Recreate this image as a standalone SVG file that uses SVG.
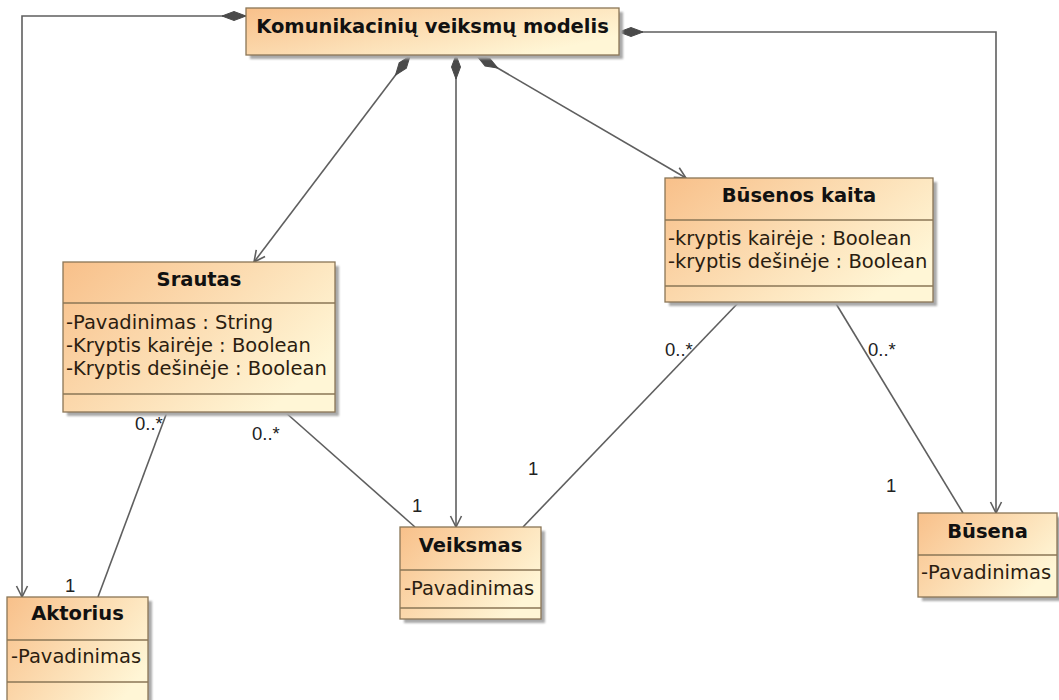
<svg xmlns="http://www.w3.org/2000/svg" width="1059" height="700" viewBox="0 0 1059 700">
  <style>
    .box { fill: url(#classFill); stroke: #8a7656; stroke-width: 1.3; }
    .shadow { fill: #a9a9a9; filter: url(#soft); }
    .div { stroke: #8a7656; stroke-width: 1.3; }
    .title { font-family: "DejaVu Sans", "Liberation Sans", sans-serif; font-weight: bold; font-size: 19.5px; fill: #111; text-anchor: middle; }
    .attr { font-family: "DejaVu Sans", "Liberation Sans", sans-serif; font-size: 19.5px; fill: #2b1d10; }
    .mult { font-family: "Liberation Sans", Arial, sans-serif; font-size: 18.5px; fill: #222; }
    .link { fill: none; stroke: #5f5f5f; stroke-width: 1.6; }
  </style>
  <defs>
    <linearGradient id="classFill" x1="0" y1="0" x2="1" y2="0.6">
      <stop offset="0" stop-color="#f8c08a"/>
      <stop offset="1" stop-color="#fff6d6"/>
    </linearGradient>
    <filter id="soft" x="-10%" y="-10%" width="120%" height="120%">
      <feGaussianBlur stdDeviation="1"/>
    </filter>
    <marker id="diamond" viewBox="-1 -6 27 12" refX="0" refY="0" markerWidth="27" markerHeight="12" markerUnits="userSpaceOnUse" orient="auto">
      <path d="M0,0 L12,-4.5 L24,0 L12,4.5 z" fill="#4a4a4a" stroke="#4a4a4a" stroke-width="1"/>
    </marker>
    <marker id="arrow" viewBox="-13 -7 15 14" refX="0" refY="0" markerWidth="15" markerHeight="14" markerUnits="userSpaceOnUse" orient="auto">
      <path d="M-11,-5.5 L0,0 L-11,5.5" fill="none" stroke="#5f5f5f" stroke-width="1.6"/>
    </marker>
  </defs>

  <rect width="1059" height="700" fill="#ffffff"/>

  <!-- connectors: compositions from the model root, then plain associations -->
  <g id="connectors">
    <path class="link" d="M246,16 H22 V597" marker-start="url(#diamond)" marker-end="url(#arrow)"/>
    <path class="link" d="M619,32 H996 V513" marker-start="url(#diamond)" marker-end="url(#arrow)"/>
    <path class="link" d="M456,55 V527" marker-start="url(#diamond)" marker-end="url(#arrow)"/>
    <path class="link" d="M410,56 L254,262" marker-start="url(#diamond)" marker-end="url(#arrow)"/>
    <path class="link" d="M477,56 L686,178" marker-start="url(#diamond)" marker-end="url(#arrow)"/>
    <path class="link" d="M167,412 L98,597"/>
    <path class="link" d="M285,412 L415,527"/>
    <path class="link" d="M739,302 L523,527"/>
    <path class="link" d="M835,302 L963,513"/>
    <text class="mult" x="135" y="430">0..*</text>
    <text class="mult" x="65" y="592">1</text>
    <text class="mult" x="252" y="440">0..*</text>
    <text class="mult" x="412" y="512">1</text>
    <text class="mult" x="665" y="356">0..*</text>
    <text class="mult" x="528" y="475">1</text>
    <text class="mult" x="868" y="356">0..*</text>
    <text class="mult" x="886" y="492">1</text>
  </g>

  <g id="komunikaciniu-veiksmu-modelis">
    <rect class="shadow" x="250" y="12" width="373" height="47"/>
    <rect class="box" x="246" y="8" width="373" height="47"/>
    <text class="title" x="432.5" y="33">Komunikacinių veiksmų modelis</text>
  </g>

  <g id="srautas">
    <rect class="shadow" x="67" y="266" width="272" height="150"/>
    <rect class="box" x="63" y="262" width="272" height="150"/>
    <line class="div" x1="63" y1="303" x2="335" y2="303"/>
    <line class="div" x1="63" y1="394" x2="335" y2="394"/>
    <text class="title" x="199" y="286">Srautas</text>
    <text class="attr" x="66" y="329">-Pavadinimas : String</text>
    <text class="attr" x="66" y="352">-Kryptis kairėje : Boolean</text>
    <text class="attr" x="66" y="375">-Kryptis dešinėje : Boolean</text>
  </g>

  <g id="busenos-kaita">
    <rect class="shadow" x="669" y="182" width="268" height="124"/>
    <rect class="box" x="665" y="178" width="268" height="124"/>
    <line class="div" x1="665" y1="220" x2="933" y2="220"/>
    <line class="div" x1="665" y1="286" x2="933" y2="286"/>
    <text class="title" x="799" y="202">Būsenos kaita</text>
    <text class="attr" x="668" y="245">-kryptis kairėje : Boolean</text>
    <text class="attr" x="668" y="268">-kryptis dešinėje : Boolean</text>
  </g>

  <g id="veiksmas">
    <rect class="shadow" x="404" y="531" width="141" height="92"/>
    <rect class="box" x="400" y="527" width="141" height="92"/>
    <line class="div" x1="400" y1="570" x2="541" y2="570"/>
    <line class="div" x1="400" y1="608" x2="541" y2="608"/>
    <text class="title" x="470.5" y="552">Veiksmas</text>
    <text class="attr" x="404" y="595">-Pavadinimas</text>
  </g>

  <g id="aktorius">
    <rect class="shadow" x="11" y="601" width="141" height="115"/>
    <rect class="box" x="7" y="597" width="141" height="115"/>
    <line class="div" x1="7" y1="640" x2="148" y2="640"/>
    <line class="div" x1="7" y1="682" x2="148" y2="682"/>
    <text class="title" x="77.5" y="620">Aktorius</text>
    <text class="attr" x="11" y="663">-Pavadinimas</text>
  </g>

  <g id="busena">
    <rect class="shadow" x="922" y="517" width="139" height="84"/>
    <rect class="box" x="918" y="513" width="139" height="84"/>
    <line class="div" x1="918" y1="555" x2="1057" y2="555"/>
    <text class="title" x="987.5" y="538">Būsena</text>
    <text class="attr" x="921" y="579">-Pavadinimas</text>
  </g>
</svg>
